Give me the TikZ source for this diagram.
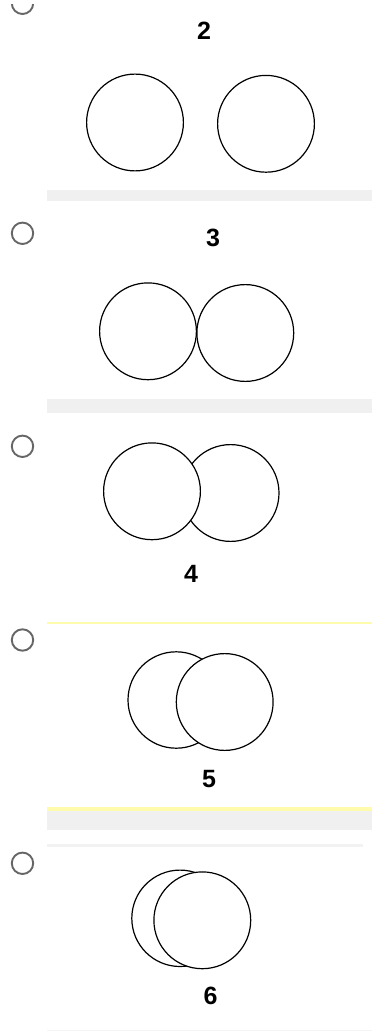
\documentclass[tikz,border=0pt]{standalone}
\usepackage{fontspec}
\setmainfont{Liberation Sans}
\begin{document}
\begin{tikzpicture}[x=1pt,y=-1pt,
  ring/.style={draw=black,line width=1.2pt},
  frontring/.style={draw=black,fill=white,line width=1.2pt},
  radio/.style={draw=black!60,line width=1.9pt},
  digit/.style={inner sep=0pt,font=\fontsize{25}{25}\selectfont\bfseries},
  bar/.style={fill=black!6,draw=none},
  yline/.style={fill=yellow!32!white,draw=none}]
\useasboundingbox[fill=white] (0,0) rectangle (372,1032);
% separators
\fill[bar] (46.7,190) rectangle (372,200.7);
\fill[bar] (46.7,399) rectangle (372,413.3);
\fill[yline] (46.7,622) rectangle (372,623.6);
\fill[yline] (46.7,807) rectangle (372,811);
\fill[bar] (46.7,811) rectangle (372,830);
\fill[fill=black!5] (46.7,843.5) rectangle (363,847);
\fill[fill=black!4] (46.7,1029.5) rectangle (372,1031);
% radio buttons
\begin{scope}
\clip (0,5) rectangle (50,30);
\draw[radio] (22.5,3.3) circle[radius=10.7];
\end{scope}
\draw[radio] (22.5,233.3) circle[radius=10.7];
\draw[radio] (22.5,446.3) circle[radius=10.7];
\draw[radio] (22.5,640) circle[radius=10.7];
\draw[radio] (22.5,863.3) circle[radius=10.7];
% panel 2
\node[digit] (n2) at (204,31) {2};
\draw[ring] (135,122.5) circle[radius=48.4];
\draw[ring] (266,123.8) circle[radius=48.4];
% panel 3
\node[digit] (n3) at (213,238) {3};
\draw[ring] (148,331.3) circle[radius=48.4];
\draw[ring] (245.3,333) circle[radius=48.4];
% panel 4
\draw[ring] (230.6,493) circle[radius=48.4];
\draw[frontring] (152,491.3) circle[radius=48.4];
\node[digit] (n4) at (191,574) {4};
% panel 5
\draw[ring] (176.2,700) circle[radius=48.2];
\draw[frontring] (224.7,702) circle[radius=48.4];
\node[digit] (n5) at (209,779) {5};
% panel 6
\draw[ring] (180,918.3) circle[radius=48.2];
\draw[frontring] (202.3,920.3) circle[radius=48.4];
\node[digit] (n6) at (210.5,996) {6};
\end{tikzpicture}
\end{document}
